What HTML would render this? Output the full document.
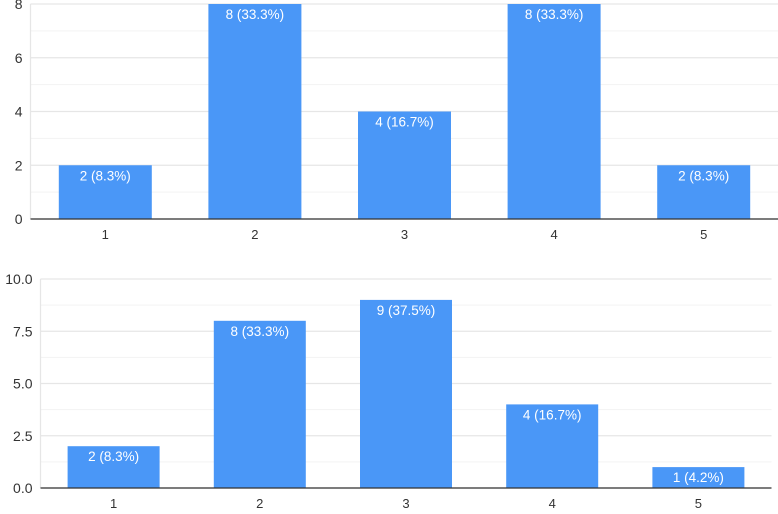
<!DOCTYPE html>
<html><head><meta charset="utf-8"><style>
body{margin:0;background:#fff;width:778px;height:509px;overflow:hidden}
svg{font-family:"Liberation Sans",Arial,sans-serif}
</style></head><body>
<svg id="c" width="778" height="509"></svg>
<script>
const categories=["1","2","3","4","5"];
const top_values=[2,8,4,8,2];
const top_labels=["2 (8.3%)","8 (33.3%)","4 (16.7%)","8 (33.3%)","2 (8.3%)"];
const top_ticks=[0,2,4,6,8];
const bot_values=[2,8,9,4,1];
const bot_labels=["2 (8.3%)","8 (33.3%)","9 (37.5%)","4 (16.7%)","1 (4.2%)"];
const bot_ticks=[0,2.5,5,7.5,10];
const bot_tick_text=["0.0","2.5","5.0","7.5","10.0"];
const NS="http://www.w3.org/2000/svg";
const svg=document.getElementById('c');
function mk(t,a,p){const e=document.createElementNS(NS,t);for(const k in a)e.setAttribute(k,a[k]);(p||svg).appendChild(e);return e;}
function chart(o){
  const g=mk('g',{});
  
  
  const y=v=>o.y0-(v-0)/(o.max)*(o.y0-o.ytop);
  const step=(o.right-o.left)/categories.length;
  const x=i=>o.left+step*(i+0.5);
  for(let i=0;i<o.ticks.length-1;i++){
    const m=(o.ticks[i]+o.ticks[i+1])/2;
    const l=mk('line',{x1:o.left,x2:o.right,y1:y(m),y2:y(m),stroke:'#f3f3f3','stroke-width':1},g);
    
    
  }
  o.ticks.forEach((t,i)=>{
    const l=mk('line',{x1:o.left,x2:o.right,y1:y(t),y2:y(t),stroke:'#e6e6e6','stroke-width':1.3},g);
    
    
    const tx=mk('text',{x:o.left-8,y:y(t)+5,'text-anchor':'end','font-size':14,fill:'#333'},g);
    tx.textContent=o.tickText[i];
    
    
  });
  const vl=mk('line',{x1:o.left,x2:o.left,y1:o.ytop,y2:o.y0,stroke:'#e6e6e6','stroke-width':1.3},g);
  
  
  o.values.forEach((v,i)=>{
    const r=mk('rect',{x:x(i)-o.bw/2,y:y(v),width:o.bw,height:o.y0-y(v),fill:'#4a97f7'},g);
    
    
    const t=mk('text',{x:x(i),y:y(v)+15,'text-anchor':'middle','font-size':13.5,fill:'#fff'},g);
    t.textContent=o.labels[i];
    
    
    const c=mk('text',{x:x(i),y:o.y0+20,'text-anchor':'middle','font-size':13,fill:'#333'},g);
    c.textContent=categories[i];
    
    
  });
  const ax=mk('line',{x1:o.left,x2:o.right,y1:o.y0,y2:o.y0,stroke:'#333','stroke-width':1.2},g);
  
  
}
chart({name:'top-chart',left:30.5,right:778.5,y0:219,ytop:4,max:8,bw:93,values:top_values,labels:top_labels,ticks:top_ticks,tickText:top_ticks.map(String)});
chart({name:'bottom-chart',left:40.5,right:771.5,y0:488,ytop:279,max:10,bw:92,values:bot_values,labels:bot_labels,ticks:bot_ticks,tickText:bot_tick_text});
</script>
</body></html>
